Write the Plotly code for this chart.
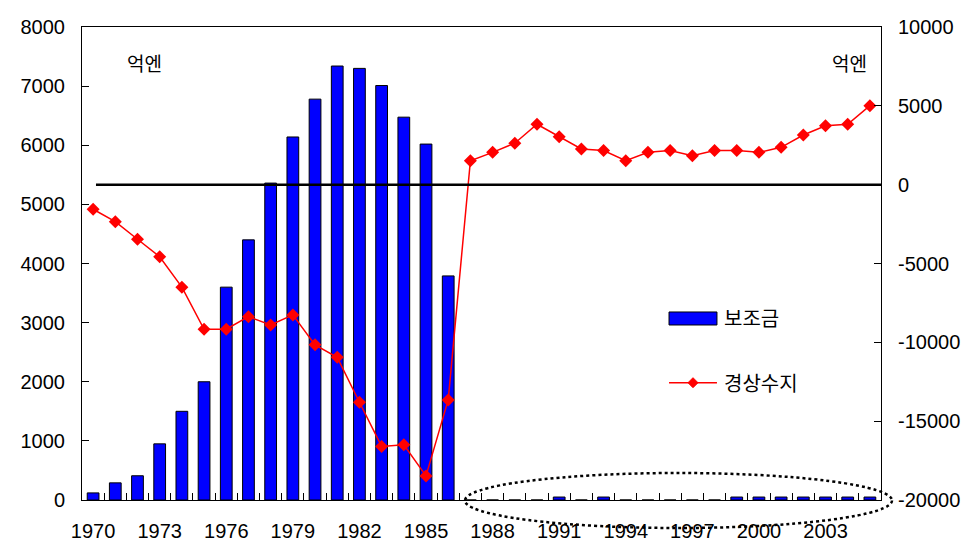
import plotly.graph_objects as go

years = list(range(1970, 2006))
subsidy = [120, 290, 410, 950, 1500, 2000, 3600, 4400, 5360, 6140, 6780, 7340, 7300, 7010, 6475, 6020, 3790,
           0, 0, 0, 0, 50, 0, 50, 0, 0, 0, 0, 0, 50, 50, 50, 50, 50, 50, 50]
current = [-1560, -2350, -3460, -4570, -6500, -9170, -9170, -8370, -8900, -8260, -10160, -10950, -13800,
           -16600, -16500, -18470, -13650,
           1520, 2050, 2630, 3830, 3040, 2260, 2160, 1520, 2050, 2160, 1840, 2160, 2160, 2050, 2370,
           3150, 3740, 3830, 5010]
tick_text = [str(y) if (y - 1970) % 3 == 0 else "" for y in years]
left_ticks = list(range(0, 8001, 1000))
right_ticks = list(range(-20000, 10001, 5000))

FONT = "Liberation Sans, Arial, sans-serif"
KFONT = "Noto Sans CJK KR, sans-serif"
cats = [str(y) for y in years]

fig = go.Figure()
fig.add_trace(go.Bar(
    x=cats, y=subsidy, name="보조금",
    marker=dict(color="#0000FF", line=dict(color="black", width=1)),
    width=0.53, yaxis="y", showlegend=False))
fig.add_trace(go.Scatter(
    x=cats, y=current, name="경상수지", mode="lines+markers",
    line=dict(color="#FF0000", width=1.5),
    marker=dict(symbol="diamond", size=10, color="#FF0000"),
    yaxis="y2", showlegend=False))

fig.update_layout(
    width=978, height=548,
    margin=dict(l=82, r=97, t=27, b=48, autoexpand=False),
    plot_bgcolor="white", paper_bgcolor="white",
    font=dict(family=FONT, size=20, color="black"),
    xaxis=dict(type="category", range=[-0.5, len(years) - 0.5], tickmode="array", tickvals=cats,
               ticktext=tick_text, tickangle=0, automargin=False,
               tickson="boundaries", ticks="inside", ticklen=7, tickcolor="black",
               showline=True, linecolor="black", linewidth=1, mirror=True,
               showgrid=False, zeroline=False, ticklabelstandoff=13,
               tickfont=dict(family=FONT, size=20)),
    yaxis=dict(range=[0, 8000], tickmode="array", tickvals=left_ticks, ticktext=[str(v) for v in left_ticks],
               ticks="inside", ticklen=7, tickcolor="black", automargin=False,
               showline=True, linecolor="black", linewidth=1, showgrid=False, zeroline=False,
               ticklabelstandoff=12, tickfont=dict(family=FONT, size=20)),
    yaxis2=dict(range=[-20000, 10000], tickmode="array", tickvals=right_ticks,
                ticktext=[str(v) for v in right_ticks], overlaying="y", side="right",
                ticks="inside", ticklen=7, tickcolor="black", automargin=False,
                showline=True, linecolor="black", linewidth=1, showgrid=False, zeroline=False,
                ticklabelstandoff=12, tickfont=dict(family=FONT, size=20)),
)

# zero line of the current account axis
fig.add_shape(type="line", xref="x domain", yref="y2", x0=0.0175, x1=1, y0=0, y1=0,
              line=dict(color="black", width=2.5))

# unit labels
for ux in (0.0776, 0.961):
    fig.add_annotation(text="억엔", xref="paper", yref="paper", x=ux, y=0.924, showarrow=False,
                       xanchor="center", yanchor="middle",
                       font=dict(family=KFONT, size=19, color="black"))

# legend (manual)
fig.add_shape(type="rect", xref="paper", yref="paper", x0=0.7347, x1=0.7947, y0=0.370, y1=0.3975,
              fillcolor="#0000FF", line=dict(color="black", width=1))
fig.add_annotation(text="보조금", xref="paper", yref="paper", x=0.801, y=0.3848, xanchor="left",
                   yanchor="middle", showarrow=False, font=dict(family=KFONT, size=20, color="black"))
fig.add_shape(type="line", xref="paper", yref="paper", x0=0.7347, x1=0.7947, y0=0.248, y1=0.248,
              line=dict(color="#FF0000", width=1.5))
fig.add_shape(type="path", xref="paper", yref="paper", xsizemode="pixel", ysizemode="pixel",
              xanchor=0.7647, yanchor=0.248, path="M -5 0 L 0 5 L 5 0 L 0 -5 Z",
              fillcolor="#FF0000", line=dict(color="#FF0000", width=1))
fig.add_annotation(text="경상수지", xref="paper", yref="paper", x=0.801, y=0.248, xanchor="left",
                   yanchor="middle", showarrow=False, font=dict(family=KFONT, size=20, color="black"))

# ellipse highlighting the small values
fig.add_shape(type="circle", xref="paper", yref="paper", x0=0.4793, x1=1.0138, y0=-0.0592, y1=0.0571,
              line=dict(color="black", width=2.5, dash="dot"))

fig.write_html("out.html")
